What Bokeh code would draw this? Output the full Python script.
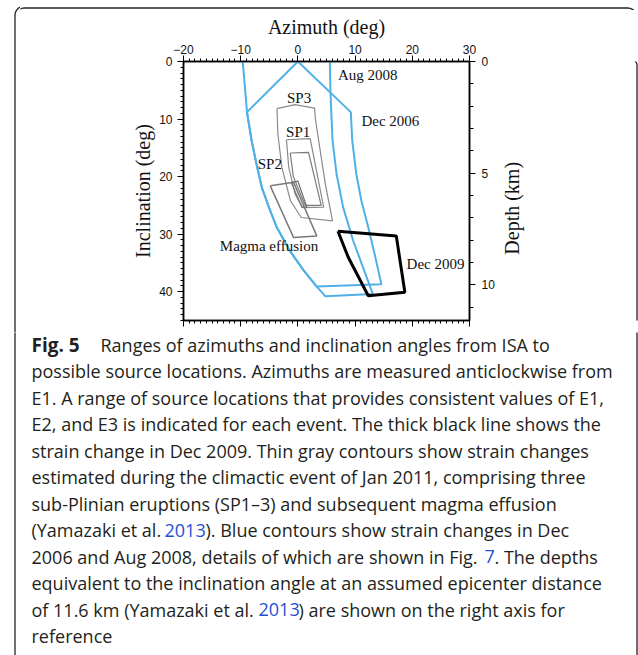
import numpy as np
from bokeh.plotting import figure
from bokeh.layouts import column, row
from bokeh.models import Range1d, LinearAxis, FixedTicker, CustomJSTickFormatter
from bokeh.core.properties import value
from bokeh.embed import file_html
from bokeh.resources import INLINE

# ---------------- data (azimuth deg, inclination deg) ----------------
x_ticks = [-20, -10, 0, 10, 20, 30]
x_minor = list(range(-20, 31))
y_ticks = [0, 10, 20, 30, 40]
y_minor = list(range(0, 46))
depth_ticks = [0, 5, 10]
depth_minor = list(range(0, 12))

dec2006_x = [0, -8.9, -8.1, -7.2, -6.3, -5.0, -3.7, -1.4, 1.0, 3.3, 14.6, 13.4, 12.3, 11.1, 10.2, 9.5, 9.25, 0]
dec2006_y = [0, 8.8, 13.7, 18.0, 21.9, 25.5, 28.8, 32.9, 36.3, 39.1, 38.7, 33.4, 28.8, 24.2, 19.5, 13.7, 8.8, 0]

aug2008_x = [-9.65, -9.3, -8.9, -8.1, -7.2, -6.3, -5.0, -3.7, -1.4, 1.0, 3.3, 4.8, 13.1, 11.4, 9.65, 7.9, 6.75, 6.05, 5.7, 5.58]
aug2008_y = [0, 4.0, 8.8, 13.7, 18.0, 21.9, 25.5, 28.8, 32.9, 36.3, 39.1, 40.8, 40.4, 35.8, 31.1, 25.3, 19.5, 13.7, 5.6, 0]

sp3_x = [-3.66, -0.5, 2.9, 3.1, 3.9, 4.8, 6.05, 0.58, -1.3, -2.8, -3.5, -3.66]
sp3_y = [8.2, 7.5, 8.1, 10.3, 15.5, 21.3, 27.7, 27.1, 24.2, 18.4, 12.6, 8.2]

sp1_outer_x = [-2.0, 2.15, 4.5, 0.8, -0.5, -1.6, -2.0]
sp1_outer_y = [13.6, 13.4, 25.3, 25.4, 23.0, 18.4, 13.6]

sp1_inner_x = [-1.34, 1.86, 4.07, 1.28, -0.8, -1.34]
sp1_inner_y = [15.9, 15.8, 25.0, 25.0, 20.0, 15.9]

sp2_x = [-1.17, 0.0, 1.57, 0.7, -1.17]
sp2_y = [21.0, 20.8, 25.3, 25.3, 21.0]

magma_x = [-4.83, -0.75, 3.3, -0.75, -4.83]
magma_y = [21.6, 21.0, 30.3, 30.6, 21.6]

dec2009_x = [7.0, 17.2, 18.7, 12.3, 8.8, 7.0]
dec2009_y = [29.5, 30.3, 40.1, 40.7, 34.0, 29.5]

label_text = ["Aug 2008", "Dec 2006", "Dec 2009"]
label_x = [7.0, 11.1, 19.0]
label_y = [2.3, 10.3, 35.1]

center_text = ["SP3", "SP1", "SP2", "Magma effusion"]
center_x = [0.2, 0.05, -4.9, -5.05]
center_y = [6.4, 12.3, 17.8, 32.1]

TXT, LINK = "#231f20", "#1f4fd6"
caption_lines = [
    [("Fig. 5", "bold", TXT), ("Ranges of azimuths and inclination angles from ISA to", "normal", TXT)],
    [("possible source locations. Azimuths are measured anticlockwise from", "normal", TXT)],
    [("E1. A range of source locations that provides consistent values of E1,", "normal", TXT)],
    [("E2, and E3 is indicated for each event. The thick black line shows the", "normal", TXT)],
    [("strain change in Dec 2009. Thin gray contours show strain changes", "normal", TXT)],
    [("estimated during the climactic event of Jan 2011, comprising three", "normal", TXT)],
    [("sub-Plinian eruptions (SP1\u20133) and subsequent magma effusion", "normal", TXT)],
    [("(Yamazaki et al. ", "normal", TXT), ("2013", "normal", LINK), ("). Blue contours show strain changes in Dec", "normal", TXT)],
    [("2006 and Aug 2008, details of which are shown in Fig. ", "normal", TXT), ("7", "normal", LINK), (". The depths", "normal", TXT)],
    [("equivalent to the inclination angle at an assumed epicenter distance", "normal", TXT)],
    [("of 11.6 km (Yamazaki et al. ", "normal", TXT), ("2013", "normal", LINK), (") are shown on the right axis for", "normal", TXT)],
    [("reference", "normal", TXT)],
]
caption_seg_x = [
    [31, 100], [31], [31], [31], [31], [31], [31],
    [31, 164, 205], [31, 484, 494], [31], [31, 258, 298], [31],
]

# ---------------- page geometry (canvas pixels) ----------------
W, H = 638, 655
FL, FR, FT, FB = 183, 470, 61, 320          # plot frame
LEFT_W, TOP_H, CHART_R, CHART_B = 20, 10, 497, 332
BL, BR, BT, RAD = 14.5, 636.5, 5.5, 9.5      # card border


def border_path():
    t = np.linspace(0, np.pi / 2, 12)
    xs = [BL] + list(BL + RAD - RAD * np.cos(t)) + list(BR - RAD + RAD * np.sin(t)) + [BR]
    ys = [H + 50] + list(BT + RAD - RAD * np.sin(t)) + list(BT + RAD - RAD * np.cos(t)) + [H + 50]
    return xs, ys


def filler(ox, oy, w, h):
    f = figure(width=w, height=h, x_range=Range1d(ox, ox + w), y_range=Range1d(oy + h, oy),
               output_backend="svg", toolbar_location=None, min_border=0,
               x_axis_type=None, y_axis_type=None)
    f.outline_line_color = None
    f.background_fill_color = "white"
    f.border_fill_color = "white"
    bx, by = border_path()
    f.line(bx, by, line_color="#222222", line_width=1.3)
    return f


# ---------------- chart ----------------
cw, ch = CHART_R - LEFT_W, CHART_B - TOP_H
p = figure(width=cw, height=ch, x_range=Range1d(-20, 30), y_range=Range1d(45, 0),
           x_axis_location="above", output_backend="svg", toolbar_location=None,
           min_border_left=FL - LEFT_W, min_border_right=CHART_R - FR,
           min_border_top=FT - TOP_H, min_border_bottom=CHART_B - FB)
p.background_fill_color = "white"
p.border_fill_color = "white"
p.xgrid.visible = False
p.ygrid.visible = False
p.outline_line_color = "black"
p.outline_line_width = 1.5
p.extra_y_ranges = {"depth": Range1d(11.6, 0)}


def style_axis(ax):
    ax.axis_line_color = "black"
    ax.axis_line_width = 1.5
    ax.major_tick_line_color = "black"
    ax.major_tick_line_width = 1
    ax.minor_tick_line_color = "black"
    ax.minor_tick_line_width = 1
    ax.major_tick_in = 0
    ax.major_tick_out = 6
    ax.minor_tick_in = 0
    ax.minor_tick_out = 3
    ax.major_label_text_font = "Liberation Sans"
    ax.major_label_text_font_size = "12px"
    ax.major_label_text_color = "#111111"
    ax.axis_label_text_font = "Liberation Serif"
    ax.axis_label_text_font_size = "20px"
    ax.axis_label_text_font_style = "normal"
    ax.axis_label_text_color = "#111111"


top = p.xaxis[0]
top.ticker = FixedTicker(ticks=x_ticks, minor_ticks=x_minor)
top.axis_label = "Azimuth (deg)"
style_axis(top)
top.major_label_standoff = 2
top.axis_label_standoff = 4

left = p.yaxis[0]
left.ticker = FixedTicker(ticks=y_ticks, minor_ticks=y_minor)
left.axis_label = "Inclination (deg)"
style_axis(left)
left.major_label_standoff = 5
left.axis_label_standoff = 2

bottom = LinearAxis(ticker=FixedTicker(ticks=x_ticks, minor_ticks=x_minor),
                    formatter=CustomJSTickFormatter(code="return ''"))
style_axis(bottom)
bottom.major_label_text_font_size = "0px"
bottom.major_label_standoff = 0
p.add_layout(bottom, "below")

right = LinearAxis(y_range_name="depth", ticker=FixedTicker(ticks=depth_ticks, minor_ticks=depth_minor))
style_axis(right)
right.major_label_standoff = 6
right.minor_tick_out = 4
p.add_layout(right, "right")

blue = "#4fb0e8"
p.line(dec2006_x, dec2006_y, line_color=blue, line_width=2)
p.line(aug2008_x, aug2008_y, line_color=blue, line_width=2)
gray = "#8a8a8a"
p.line(sp3_x, sp3_y, line_color=gray, line_width=1.2)
p.line(sp1_outer_x, sp1_outer_y, line_color=gray, line_width=1.2)
p.line(sp1_inner_x, sp1_inner_y, line_color="#7a7a7a", line_width=1.2)
p.line(sp2_x, sp2_y, line_color="#6f6f6f", line_width=1.2)
p.line(magma_x, magma_y, line_color="#7a7a7a", line_width=1.5)
p.line(dec2009_x, dec2009_y, line_color="black", line_width=3)

p.text(x=label_x, y=label_y, text=label_text, text_font=value("Liberation Serif"),
       text_font_size="15px", text_align="left", text_baseline="middle", text_color="#111111")
p.text(x=center_x, y=center_y, text=center_text, text_font=value("Liberation Serif"),
       text_font_size="15px", text_align="center", text_baseline="middle", text_color="#111111")

# ---------------- fillers (border, right axis title, caption) ----------------
f_left = filler(0, 0, LEFT_W, CHART_B)
f_top = filler(LEFT_W, 0, W - LEFT_W, TOP_H)
f_right = filler(CHART_R, TOP_H, W - CHART_R, CHART_B - TOP_H)
f_right.text(x=[511], y=[(FT + FB) / 2 + 2], text=["Depth (km)"], angle=np.pi / 2,
             text_font=value("Liberation Serif"), text_font_size="20px",
             text_align="center", text_baseline="alphabetic", text_color="#111111")

f_cap = filler(0, CHART_B, W, H - CHART_B)
base0, step = 344.3, 26.5
for style, size in (("normal", "18px"), ("bold", "19px")):
    xs, ys, ts, cs = [], [], [], []
    for i, (segs, sxs) in enumerate(zip(caption_lines, caption_seg_x)):
        for (txt, st, col), sx in zip(segs, sxs):
            if st == style:
                xs.append(sx)
                ys.append(base0 + i * step)
                ts.append(txt)
                cs.append(col)
    f_cap.text(x=xs, y=ys, text=ts, text_color=cs, text_font=value("Open Sans"),
               text_font_size=size, text_font_style=style, text_align="left",
               text_baseline="alphabetic")

layout = column(row(f_left, column(f_top, row(p, f_right))), f_cap)
open("out.html", "w").write(file_html(layout, INLINE))
